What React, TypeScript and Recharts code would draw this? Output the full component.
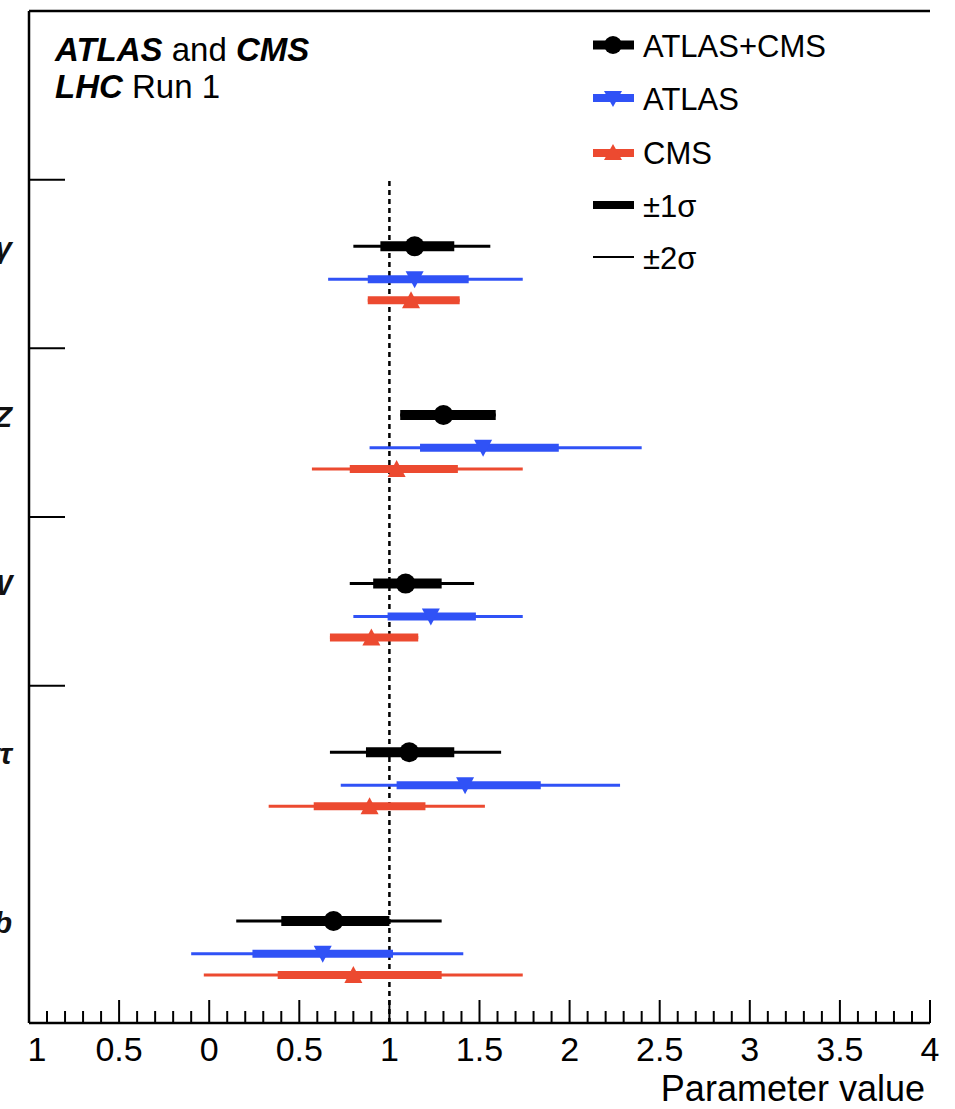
import React from "react";
import { ScatterChart, Scatter, XAxis, YAxis, ErrorBar, ReferenceLine } from "recharts";

const categories = ["γγ", "ZZ", "WW", "ττ", "bb"];

// ATLAS+CMS combined
const comboValue = [1.14, 1.3, 1.09, 1.11, 0.69];
const comboLo1 = [0.95, 1.06, 0.91, 0.87, 0.4];
const comboHi1 = [1.36, 1.59, 1.29, 1.36, 1.0];
const comboLo2 = [0.8, 1.06, 0.78, 0.67, 0.15];
const comboHi2 = [1.56, 1.59, 1.47, 1.62, 1.29];

// ATLAS
const atlasValue = [1.14, 1.52, 1.23, 1.42, 0.63];
const atlasLo1 = [0.88, 1.17, 0.99, 1.04, 0.24];
const atlasHi1 = [1.44, 1.94, 1.48, 1.84, 1.02];
const atlasLo2 = [0.66, 0.89, 0.8, 0.73, -0.1];
const atlasHi2 = [1.74, 2.4, 1.74, 2.28, 1.41];

// CMS
const cmsValue = [1.12, 1.04, 0.9, 0.89, 0.8];
const cmsLo1 = [0.88, 0.78, 0.67, 0.58, 0.38];
const cmsHi1 = [1.39, 1.38, 1.16, 1.2, 1.29];
const cmsLo2 = [0.88, 0.57, 0.67, 0.33, -0.03];
const cmsHi2 = [1.39, 1.74, 1.16, 1.53, 1.74];

const xTickValues = [-1, -0.5, 0, 0.5, 1, 1.5, 2, 2.5, 3, 3.5, 4];
const xTickLabels = ["1", "0.5", "0", "0.5", "1", "1.5", "2", "2.5", "3", "3.5", "4"];

const BLUE = "#3052f6";
const RED = "#ec4a30";
const FONT = '"Liberation Sans", Arial, Helvetica, sans-serif';

// each category takes one unit on the y axis, rows sit at fixed offsets inside it
function buildRows(value: number[], lo1: number[], hi1: number[], lo2: number[], hi2: number[], offset: number) {
  return categories.map((name, i) => ({
    name,
    x: value[i],
    y: categories.length - 0.5 - i + offset,
    e1: [value[i] - lo1[i], hi1[i] - value[i]],
    e2: [value[i] - lo2[i], hi2[i] - value[i]],
  }));
}

const comboRows = buildRows(comboValue, comboLo1, comboHi1, comboLo2, comboHi2, 0.105);
const atlasRows = buildRows(atlasValue, atlasLo1, atlasHi1, atlasLo2, atlasHi2, -0.09);
const cmsRows = buildRows(cmsValue, cmsLo1, cmsHi1, cmsLo2, cmsHi2, -0.215);

const minorTicks: number[] = [];
for (let i = 0; i <= 50; i++) minorTicks.push(Math.round((-1 + i * 0.1) * 10) / 10);

const CircleMark = (p: any) => <circle cx={p.cx} cy={p.cy} r={10} fill="#000" />;
const DownMark = (p: any) => (
  <polygon points={`${p.cx - 9},${p.cy - 8} ${p.cx + 9},${p.cy - 8} ${p.cx},${p.cy + 9}`} fill={BLUE} />
);
const UpMark = (p: any) => (
  <polygon points={`${p.cx - 9},${p.cy + 8} ${p.cx + 9},${p.cy + 8} ${p.cx},${p.cy - 9}`} fill={RED} />
);

const XTick = (props: any) => {
  const { x, payload } = props;
  const v = payload.value;
  const idx = xTickValues.findIndex((t) => Math.abs(t - v) < 1e-6);
  const major = idx >= 0;
  const y0 = 1023;
  return (
    <g>
      <line x1={x} x2={x} y1={y0} y2={y0 - (major ? 23 : 12)} stroke="#000" strokeWidth={2} />
      {major && (
        <text x={x + (v === -1 ? 8 : 0)} y={y0 + 38} textAnchor="middle" fontSize={34} fontFamily={FONT} fill="#000">
          {xTickLabels[idx]}
        </text>
      )}
    </g>
  );
};

const YTick = (props: any) => {
  const { y, payload } = props;
  const v = payload.value;
  const x0 = 29;
  if (Number.isInteger(v)) {
    return <line x1={x0} x2={x0 + 36} y1={y} y2={y} stroke="#000" strokeWidth={2} />;
  }
  const i = Math.round(categories.length - 0.5 - v);
  return (
    <text x={x0 - 17} y={y - 6} textAnchor="end" fontSize={30} fontStyle="italic" fontWeight="bold" fontFamily={FONT} fill="#111">
      {categories[i]}
    </text>
  );
};

function Overlay() {
  return (
    <svg width={955} height={1109} style={{ position: "absolute", left: 0, top: 0, pointerEvents: "none" }}>
      <text x={55} y={61} fontSize={33} fontFamily={FONT} fill="#000">
        <tspan fontWeight="bold" fontStyle="italic">ATLAS</tspan>
        <tspan> and </tspan>
        <tspan fontWeight="bold" fontStyle="italic">CMS</tspan>
      </text>
      <text x={55} y={98} fontSize={33} fontFamily={FONT} fill="#000">
        <tspan fontWeight="bold" fontStyle="italic">LHC</tspan>
        <tspan> Run 1</tspan>
      </text>

      <line x1={593} x2={634} y1={45} y2={45} stroke="#000" strokeWidth={9} />
      <circle cx={613} cy={45} r={9} fill="#000" />
      <text x={643} y={46} fontSize={31} fontFamily={FONT} dominantBaseline="central">ATLAS+CMS</text>

      <line x1={593} x2={634} y1={98} y2={98} stroke={BLUE} strokeWidth={8} />
      <polygon points="604,91 622,91 613,107" fill={BLUE} />
      <text x={643} y={99} fontSize={31} fontFamily={FONT} dominantBaseline="central">ATLAS</text>

      <line x1={593} x2={634} y1={153} y2={153} stroke={RED} strokeWidth={8} />
      <polygon points="604,160 622,160 613,144" fill={RED} />
      <text x={643} y={153} fontSize={31} fontFamily={FONT} dominantBaseline="central">CMS</text>

      <line x1={593} x2={634} y1={205} y2={205} stroke="#000" strokeWidth={8} />
      <text x={643} y={206} fontSize={31} fontFamily={FONT} dominantBaseline="central">±1σ</text>

      <line x1={593} x2={634} y1={257} y2={257} stroke="#000" strokeWidth={2} />
      <text x={643} y={258} fontSize={31} fontFamily={FONT} dominantBaseline="central">±2σ</text>

      <text x={925} y={1101} textAnchor="end" fontSize={36} fontFamily={FONT} fill="#000">Parameter value</text>
    </svg>
  );
}

export default function App() {
  return (
    <div style={{ position: "absolute", left: 0, top: 0, width: 955, height: 1109, background: "#fff" }}>
      <ScatterChart width={955} height={1109} margin={{ top: 11, right: 25, bottom: 56, left: 9 }}>
        <XAxis
          type="number"
          dataKey="x"
          domain={[-1, 4]}
          allowDataOverflow
          ticks={minorTicks}
          interval={0}
          height={30}
          tickSize={0}
          tickMargin={0}
          tickLine={false}
          tick={<XTick />}
          axisLine={{ stroke: "#000", strokeWidth: 2.5 }}
        />
        <YAxis
          type="number"
          dataKey="y"
          domain={[0, 6]}
          allowDataOverflow
          ticks={[0.5, 1.5, 2, 2.5, 3, 3.5, 4, 4.5, 5]}
          interval={0}
          width={20}
          tickSize={0}
          tickMargin={0}
          tickLine={false}
          tick={<YTick />}
          axisLine={{ stroke: "#000", strokeWidth: 2.5 }}
        />
        <ReferenceLine y={6} stroke="#000" strokeWidth={2.5} />
        <ReferenceLine
          segment={[{ x: 1, y: 0 }, { x: 1, y: 5 }]}
          stroke="#000"
          strokeWidth={2.5}
          strokeDasharray="5 4"
        />
        <Scatter data={comboRows} shape={CircleMark} isAnimationActive={false}>
          <ErrorBar dataKey="e2" direction="x" width={0} stroke="#000" strokeWidth={3} isAnimationActive={false} />
          <ErrorBar dataKey="e1" direction="x" width={0} stroke="#000" strokeWidth={10} isAnimationActive={false} />
        </Scatter>
        <Scatter data={atlasRows} shape={DownMark} isAnimationActive={false}>
          <ErrorBar dataKey="e2" direction="x" width={0} stroke={BLUE} strokeWidth={3} isAnimationActive={false} />
          <ErrorBar dataKey="e1" direction="x" width={0} stroke={BLUE} strokeWidth={8} isAnimationActive={false} />
        </Scatter>
        <Scatter data={cmsRows} shape={UpMark} isAnimationActive={false}>
          <ErrorBar dataKey="e2" direction="x" width={0} stroke={RED} strokeWidth={3} isAnimationActive={false} />
          <ErrorBar dataKey="e1" direction="x" width={0} stroke={RED} strokeWidth={8} isAnimationActive={false} />
        </Scatter>
      </ScatterChart>
      <Overlay />
    </div>
  );
}
